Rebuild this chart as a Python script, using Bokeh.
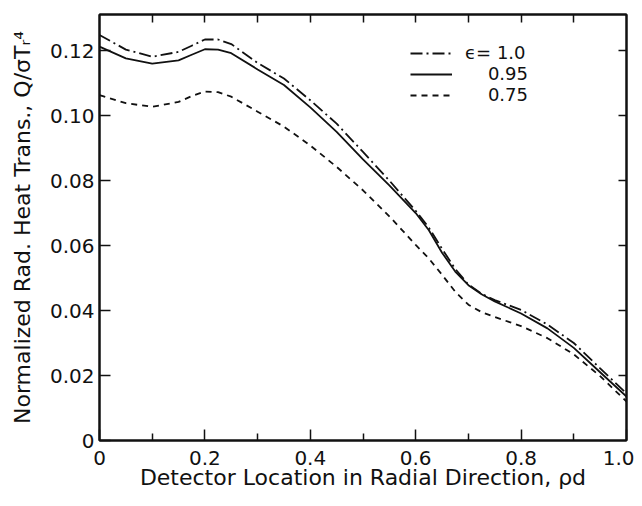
import numpy as np
from bokeh.plotting import figure
from bokeh.models import LinearAxis, FixedTicker, Range1d, Legend, LegendItem
from bokeh.embed import file_html
from bokeh.resources import INLINE

# Detector location (radial direction)
rho_d = [0.0, 0.05, 0.1, 0.15, 0.175, 0.2, 0.225, 0.25, 0.3, 0.35, 0.4, 0.45, 0.5,
         0.55, 0.6, 0.625, 0.65, 0.675, 0.7, 0.725, 0.75, 0.8, 0.85, 0.9, 0.95, 1.0]

# Normalized radiative heat transfer Q / sigma Tr^4
q_eps_100 = [0.1248, 0.1203, 0.1181, 0.1196, 0.1215, 0.1234, 0.1234, 0.1220, 0.1162,
             0.1114, 0.1047, 0.0975, 0.0888, 0.0800, 0.0707, 0.0655, 0.0590, 0.0528,
             0.0480, 0.0452, 0.0432, 0.0402, 0.0357, 0.0300, 0.0222, 0.0145]
q_eps_095 = [0.1212, 0.1176, 0.1160, 0.1170, 0.1187, 0.1204, 0.1203, 0.1192, 0.1142,
             0.1094, 0.1025, 0.0950, 0.0865, 0.0785, 0.0700, 0.0647, 0.0578, 0.0520,
             0.0478, 0.0450, 0.0428, 0.0391, 0.0345, 0.0285, 0.0210, 0.0135]
q_eps_075 = [0.1063, 0.1038, 0.1027, 0.1042, 0.1060, 0.1074, 0.1072, 0.1058, 0.1012,
             0.0966, 0.0908, 0.0842, 0.0770, 0.0690, 0.0602, 0.0560, 0.0510, 0.0458,
             0.0418, 0.0395, 0.0380, 0.0352, 0.0315, 0.0265, 0.0198, 0.0120]

legend_labels = ["\u03f5= 1.0", "\u2007\u20070.95", "\u2007\u20070.75"]

x_ticks = [0.0, 0.2, 0.4, 0.6, 0.8, 1.0]
x_tick_labels = ["0", "0.2", "0.4", "0.6", "0.8", "1.0"]
x_minor_ticks = [0.1, 0.3, 0.5, 0.7, 0.9]
top_ticks = [0.1, 0.2, 0.3, 0.4, 0.5, 0.6, 0.7, 0.8, 0.9]
y_ticks = [0.0, 0.02, 0.04, 0.06, 0.08, 0.10, 0.12]
y_tick_labels = ["0", "0.02", "0.04", "0.06", "0.08", "0.10", "0.12"]
right_ticks = [0.02, 0.04, 0.06, 0.08, 0.10, 0.12]

x_title = "Detector Location in Radial Direction, \u03c1d"
y_title = "Normalized Rad. Heat Trans., Q/\u03c3T\u1d63\u2074"

FONT = "DejaVu Sans"
INK = "#111111"

p = figure(width=634, height=498, x_range=Range1d(0, 1.0), y_range=Range1d(0, 0.1311),
           output_backend="svg", toolbar_location=None,
           min_border_left=99, min_border_right=8, min_border_top=14, min_border_bottom=58,
           x_axis_type=None, y_axis_type=None)
p.grid.visible = False
p.outline_line_color = INK
p.outline_line_width = 2
p.background_fill_color = "white"
p.border_fill_color = "white"


def style_axis(ax, ticks, labels=None, minor=None, tin=11, minin=7):
    ax.ticker = FixedTicker(ticks=ticks, minor_ticks=minor or [])
    ax.major_tick_in = tin
    ax.major_tick_out = 0
    ax.minor_tick_in = minin
    ax.minor_tick_out = 0
    ax.major_tick_line_color = INK
    ax.minor_tick_line_color = INK
    ax.major_tick_line_width = 1.5
    ax.minor_tick_line_width = 1.5
    ax.axis_line_color = INK
    ax.axis_line_width = 2
    if labels is None:
        ax.major_label_text_color = None
        ax.major_label_text_font_size = "1px"
        ax.major_label_standoff = 0
    else:
        ax.major_label_overrides = {t: l for t, l in zip(ticks, labels)}
        ax.major_label_text_font = FONT
        ax.major_label_text_font_size = "20px"
        ax.major_label_text_color = INK
    ax.axis_label_text_font = FONT
    ax.axis_label_text_font_style = "normal"
    ax.axis_label_text_color = INK


xb = LinearAxis(axis_label=x_title)
style_axis(xb, x_ticks, x_tick_labels, x_minor_ticks, tin=11, minin=7)
xb.major_label_standoff = 10
xb.axis_label_standoff = -3
xb.axis_label_text_font_size = "22px"
p.add_layout(xb, "below")

yl = LinearAxis(axis_label=y_title)
style_axis(yl, y_ticks, y_tick_labels, tin=11)
yl.major_label_standoff = 5
yl.axis_label_standoff = 12
yl.axis_label_text_font_size = "22px"
p.add_layout(yl, "left")

xt = LinearAxis()
style_axis(xt, top_ticks, None, tin=8)
p.add_layout(xt, "above")

yr = LinearAxis()
style_axis(yr, right_ticks, None, tin=8)
p.add_layout(yr, "right")

r1 = p.line(rho_d, q_eps_100, line_color=INK, line_width=1.8, line_dash="12 4 2 4")
r2 = p.line(rho_d, q_eps_095, line_color=INK, line_width=1.8)
r3 = p.line(rho_d, q_eps_075, line_color=INK, line_width=1.8, line_dash="6 5")

legend = Legend(items=[LegendItem(label=legend_labels[0], renderers=[r1]),
                       LegendItem(label=legend_labels[1], renderers=[r2]),
                       LegendItem(label=legend_labels[2], renderers=[r3])],
                location=(311, 335), border_line_color=None, background_fill_alpha=0,
                padding=0, spacing=0, margin=0, glyph_width=42, glyph_height=20,
                label_height=20, label_standoff=13, label_text_font=FONT,
                label_text_font_size="18px", label_text_color=INK)
p.add_layout(legend)

open("out.html", "w").write(file_html(p, INLINE))
